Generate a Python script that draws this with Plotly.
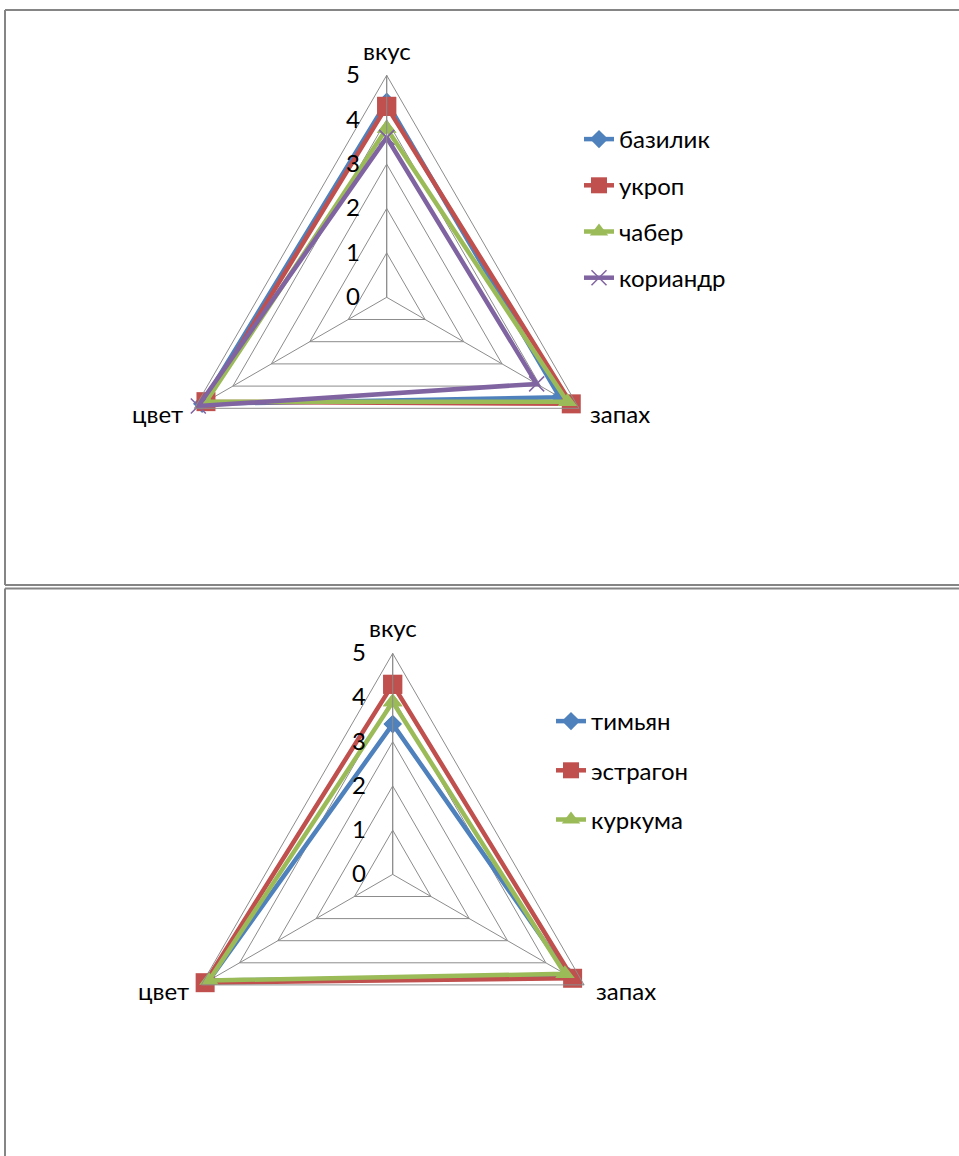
import plotly.graph_objects as go

# ---- data ----
categories = ["вкус", "запах", "цвет"]

top_series = ["базилик", "укроп", "чабер", "кориандр"]
bazilik = [4.4, 4.5, 4.8]
ukrop = [4.3, 4.8, 4.7]
chaber = [3.8, 4.7, 4.7]
koriandr = [3.6, 3.9, 4.9]

bottom_series = ["тимьян", "эстрагон", "куркума"]
timyan = [3.4, 4.6, 4.8]
estragon = [4.3, 4.7, 4.9]
kurkuma = [3.9, 4.5, 4.8]

radial_ticks = [0, 1, 2, 3, 4, 5]

# ---- styles ----
W, H = 959, 1156
FONT = "Lato"
GRID = "#8c8c8c"
colors = ["#4F81BD", "#C0504D", "#9BBB59", "#8064A2"]
symbols = ["diamond", "square", "triangle-up", "x-thin"]
sizes = [14, 19, 17, 15]
# category label placement relative to polar centre (px): dx, dy, xanchor
label_offsets = [(0, -247, "center"), (201, 116, "left"), (-202, 116, "right")]

fig = go.Figure()


def add_series(name, vals, idx, subplot, legend):
    r = list(vals) + [vals[0]]
    th = list(categories) + [categories[0]]
    marker = dict(symbol=symbols[idx], size=sizes[idx], color=colors[idx])
    if symbols[idx] == "x-thin":
        marker["line"] = dict(color=colors[idx], width=1.5)
    fig.add_trace(go.Scatterpolar(
        r=r, theta=th, name=name, mode="lines+markers",
        line=dict(color=colors[idx], width=4.5),
        marker=marker, subplot=subplot, legend=legend,
        legendgroup=f"{subplot}_{idx}",
    ))


for i, (n, v) in enumerate(zip(top_series, [bazilik, ukrop, chaber, koriandr])):
    add_series(n, v, i, "polar", "legend")
for i, (n, v) in enumerate(zip(bottom_series, [timyan, estragon, kurkuma])):
    add_series(n, v, i, "polar2", "legend2")


def px_dom(cx, cy, R):
    return dict(x=[(cx - R) / W, (cx + R) / W], y=[1 - (cy + R) / H, 1 - (cy - R) / H])


def polar_cfg(cx, cy, R):
    return dict(
        domain=px_dom(cx, cy, R),
        gridshape="linear",
        bgcolor="white",
        angularaxis=dict(
            rotation=90, direction="clockwise",
            showline=True, linecolor=GRID, linewidth=1,
            showgrid=True, gridcolor=GRID, gridwidth=1,
            ticks="", showticklabels=False,
        ),
        radialaxis=dict(
            range=[0, 5], tickvals=radial_ticks, angle=90, side="counterclockwise",
            showline=True, linecolor=GRID, linewidth=1,
            showgrid=True, gridcolor=GRID, gridwidth=1,
            ticks="outside", ticklen=18, tickcolor="rgba(0,0,0,0)",
            tickangle=90,
            tickfont=dict(family=FONT, size=24, color="black"),
        ),
    )


centres = [(386.7, 297.3), (392.7, 874.4)]
annotations = []
for (cx, cy) in centres:
    for cat, (dx, dy, anc) in zip(categories, label_offsets):
        annotations.append(dict(
            xref="paper", yref="paper", x=(cx + dx) / W, y=1 - (cy + dy) / H,
            text=cat, showarrow=False, xanchor=anc, yanchor="middle",
            font=dict(family=FONT, size=24, color="black"),
        ))

legend_common = dict(
    font=dict(family=FONT, size=24, color="black"),
    bgcolor="rgba(0,0,0,0)", borderwidth=0,
    xanchor="left", yanchor="top", orientation="v",
)

fig.update_layout(
    width=W, height=H,
    margin=dict(l=0, r=0, t=0, b=0),
    paper_bgcolor="white",
    showlegend=True,
    polar=polar_cfg(centres[0][0], centres[0][1], 222),
    polar2=polar_cfg(centres[1][0], centres[1][1], 221),
    legend=dict(**legend_common, x=579 / W, y=1 - 117 / H, tracegroupgap=12),
    legend2=dict(**legend_common, x=551 / W, y=1 - 699 / H, tracegroupgap=15),
    annotations=annotations,
    shapes=[
        # top frame
        dict(type="line", xref="paper", yref="paper", x0=5 / W, x1=1.0, y0=1 - 10 / H, y1=1 - 10 / H,
             line=dict(color="#858585", width=2)),
        dict(type="line", xref="paper", yref="paper", x0=5 / W, x1=5 / W, y0=1 - 10 / H, y1=1 - 585 / H,
             line=dict(color="#858585", width=2)),
        dict(type="line", xref="paper", yref="paper", x0=5 / W, x1=1.0, y0=1 - 585 / H, y1=1 - 585 / H,
             line=dict(color="#858585", width=2)),
        # bottom frame
        dict(type="line", xref="paper", yref="paper", x0=5 / W, x1=1.0, y0=1 - 588.5 / H, y1=1 - 588.5 / H,
             line=dict(color="#858585", width=2)),
        dict(type="line", xref="paper", yref="paper", x0=5 / W, x1=5 / W, y0=1 - 588.5 / H, y1=0,
             line=dict(color="#858585", width=2)),
    ],
)

fig.write_html("out.html", config={"displayModeBar": False},
               post_script="document.body.style.margin='0px';")
